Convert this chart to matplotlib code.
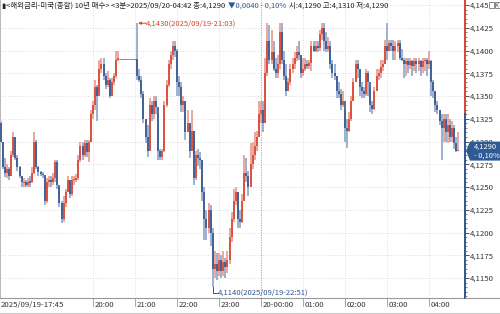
import matplotlib
matplotlib.use("Agg")
import matplotlib.pyplot as plt
import numpy as np
import pandas as pd

plt.rcParams['font.family'] = ['Noto Sans CJK KR', 'DejaVu Sans']

# 3분봉, 단위: 4.1 기준 0.0001 (예: 320 -> 4.1320)
first_open = 320
closes = [300, 272, 265, 270, 262, 285, 305, 282, 272, 262,
          255, 255, 252, 256, 255, 265, 300, 272, 266, 264,
          263, 235, 255, 258, 256, 260, 278, 252, 232, 215,
          232, 245, 258, 242, 258, 258, 260, 280, 295, 285,
          298, 288, 300, 330, 340, 360, 350, 380, 385, 372,
          362, 368, 350, 365, 372, 390, 391, 391, 391, 391,
          391, 391, 391, 391, 391, 372, 368, 352, 325, 305,
          290, 340, 330, 345, 338, 290, 283, 290, 340, 362,
          385, 395, 405, 400, 365, 360, 340, 345, 310, 320,
          290, 312, 260, 285, 282, 280, 245, 215, 205, 225,
          200, 160, 165, 158, 170, 158, 168, 162, 170, 195,
          215, 235, 245, 215, 212, 235, 265, 262, 250, 275,
          285, 295, 305, 330, 335, 320, 375, 410, 390, 398,
          380, 375, 385, 420, 390, 372, 355, 365, 380, 385,
          392, 398, 395, 375, 380, 385, 383, 386, 405, 400,
          405, 403, 418, 425, 410, 402, 405, 385, 375, 372,
          355, 352, 340, 345, 315, 312, 325, 345, 365, 385,
          380, 360, 355, 352, 375, 365, 340, 336, 355, 372,
          375, 382, 385, 405, 400, 408, 405, 400, 405, 408,
          392, 390, 385, 388, 384, 388, 383, 388, 385, 388,
          382, 388, 390, 385, 388, 365, 355, 340, 335, 322,
          315, 325, 310, 318, 305, 315, 298, 290, 290]
highs = [322, 300, 282, 275, 272, 290, 310, 305, 285, 273,
         262, 260, 258, 260, 262, 272, 310, 302, 273, 268,
         266, 262, 260, 262, 262, 265, 280, 280, 250, 235,
         240, 248, 262, 258, 262, 262, 264, 285, 300, 300,
         302, 302, 302, 335, 345, 368, 362, 390, 392, 392,
         375, 378, 370, 370, 375, 400, 400, 391, 391, 391,
         391, 391, 391, 391, 391, 430, 380, 372, 355, 325,
         318, 348, 345, 350, 350, 330, 292, 292, 345, 368,
         390, 400, 410, 410, 402, 372, 365, 350, 345, 335,
         318, 335, 312, 290, 292, 288, 280, 250, 225, 232,
         230, 205, 180, 178, 178, 175, 180, 172, 180, 205,
         222, 248, 250, 245, 225, 242, 285, 282, 268, 298,
         300, 310, 312, 345, 345, 345, 392, 430, 428, 422,
         410, 392, 395, 430, 430, 400, 385, 370, 385, 392,
         398, 405, 410, 395, 392, 392, 390, 390, 410, 410,
         410, 410, 422, 430, 430, 420, 415, 410, 390, 385,
         372, 365, 358, 355, 335, 325, 332, 350, 370, 390,
         390, 380, 365, 360, 380, 378, 360, 345, 360, 380,
         380, 390, 390, 412, 430, 412, 412, 412, 410, 412,
         412, 402, 392, 392, 392, 392, 390, 392, 392, 392,
         390, 392, 392, 392, 400, 390, 368, 355, 345, 335,
         330, 330, 330, 330, 325, 322, 318, 305, 310]
lows = [298, 270, 261, 260, 258, 262, 283, 280, 268, 260,
        250, 250, 250, 250, 250, 254, 264, 270, 262, 262,
        260, 230, 232, 250, 250, 252, 256, 248, 228, 210,
        212, 228, 245, 238, 240, 252, 255, 258, 278, 280,
        283, 283, 278, 300, 325, 335, 322, 352, 375, 368,
        358, 360, 348, 350, 362, 370, 388, 391, 391, 391,
        391, 391, 391, 391, 391, 368, 365, 348, 320, 298,
        283, 290, 322, 325, 330, 280, 280, 280, 288, 338,
        360, 380, 390, 393, 350, 350, 332, 332, 302, 310,
        282, 290, 252, 258, 273, 270, 235, 192, 192, 200,
        185, 140, 150, 148, 152, 150, 152, 150, 155, 165,
        190, 212, 230, 205, 205, 210, 235, 255, 240, 250,
        270, 280, 290, 305, 320, 310, 320, 372, 385, 385,
        378, 370, 370, 380, 385, 368, 350, 355, 362, 375,
        380, 388, 390, 370, 372, 378, 380, 380, 378, 398,
        398, 398, 400, 412, 400, 398, 398, 380, 370, 368,
        348, 348, 335, 338, 300, 293, 310, 322, 345, 365,
        370, 350, 348, 348, 350, 350, 332, 330, 335, 355,
        368, 370, 378, 385, 390, 400, 400, 390, 390, 398,
        390, 388, 370, 372, 375, 380, 372, 378, 375, 378,
        372, 375, 378, 372, 380, 350, 348, 332, 330, 318,
        280, 300, 300, 298, 300, 300, 292, 288, 290]

start_time = "2025-09-19 17:48"
first_label = "2025/09/19-17:45"
y_ticks = [4.1150, 4.1175, 4.1200, 4.1225, 4.1250, 4.1275, 4.1300,
           4.1325, 4.1350, 4.1375, 4.1400, 4.1425, 4.1450]
prev_close = 4.1330
last_price = 4.1290
high_label = "4,1430(2025/09/19-21:03)"
low_label = "4,1140(2025/09/19-22:51)"
header_parts = ["▮<해외금리-미국(종합) 10년 매수> <3분>2025/09/20-04:42 종:4,1290",
                "▼0,0040 - 0,10%",
                "시:4,1290 고:4,1310 저:4,1290"]

RED = "#d8432f"
BLUE = "#31558f"
RED_L = "#eaa89d"
BLUE_L = "#9db1d0"

c = 4.1 + np.array(closes) / 10000
h = 4.1 + np.array(highs) / 10000
l = 4.1 + np.array(lows) / 10000
o = np.r_[4.1 + first_open / 10000, c[:-1]]
n = len(c)
idx = np.arange(n)
times = pd.date_range(start_time, periods=n, freq="3min")

W, H = 500, 314
fig = plt.figure(figsize=(W / 100, H / 100), dpi=100)
ax_w, ax_h = 465, 298
ax = fig.add_axes([0, 1 - ax_h / H, ax_w / W, ax_h / H])

# 픽셀 배치: 봉 간격 2.1px
ax.set_xlim(-0.6 / 2.1, (ax_w - 0.6) / 2.1)
ax.set_ylim(4.145 - 293 / 9100, 4.145 + 5 / 9100)

for v in y_ticks:
    ax.axhline(v, color="#d4d4d4", lw=0.6, ls=(0, (1, 2)), zorder=0)

# 시작 라벨에 가리는 18시, 19시는 제외
hours = [i for i in idx if times[i].minute == 0 and 0.6 + 2.1 * i > 85]
for i in hours:
    if times[i].hour == 0:
        ax.axvline(i, color="#9a9a9a", lw=0.6, ls=(0, (1.5, 1.5)), zorder=4)
    else:
        ax.axvline(i, color="#d4d4d4", lw=0.6, ls=(0, (1, 2)), zorder=0)

up = c >= o
for i in idx:
    col = RED if up[i] else BLUE
    lcol = RED_L if up[i] else BLUE_L
    if h[i] == l[i]:
        ax.hlines(h[i], i - 0.5, i + 0.5, color=RED, lw=0.6, zorder=2)
        continue
    ax.vlines(i, l[i], h[i], color=lcol, lw=1.4, zorder=2)
    lo_b, hi_b = min(o[i], c[i]), max(o[i], c[i])
    if hi_b - lo_b < 0.00015:
        mid = (hi_b + lo_b) / 2
        lo_b, hi_b = mid - 0.000075, mid + 0.000075
    ax.vlines(i, lo_b, hi_b, color=col, lw=1.2, zorder=3)

# 최고/최저 표시
ih = int(np.argmax(h))
il = int(np.argmin(l))
ax.annotate("", xy=(ih + 0.5, h[ih]), xytext=(ih + 4.5, h[ih]),
            arrowprops=dict(arrowstyle="-|>", color=RED, lw=0.7,
                            mutation_scale=4, shrinkA=0, shrinkB=0), zorder=5)
ax.text(ih + 4.3, h[ih], high_label, color=RED, fontsize=5.5,
        va="center", ha="left", zorder=5)
ax.plot([il + 0.3, il + 0.3, il + 2.3], [l[il], l[il] - 0.0006, l[il] - 0.0006],
        color=BLUE, lw=0.7, zorder=5)
ax.text(il + 2.3, l[il] - 0.0006, low_label, color=BLUE, fontsize=5.5,
        va="center", ha="left", zorder=5)

# 축
ax.spines["top"].set_visible(False)
ax.spines["right"].set_visible(False)
ax.spines["left"].set_color("#bbbbbb")
ax.spines["left"].set_linewidth(0.8)
ax.spines["bottom"].set_color("#999999")
ax.spines["bottom"].set_linewidth(0.8)
y_bot, y_top = ax.get_ylim()
ax.plot([1, 1], [prev_close, y_top], transform=ax.get_yaxis_transform(),
        color=RED, lw=1.4, clip_on=False, zorder=6)
ax.plot([1, 1], [y_bot, prev_close], transform=ax.get_yaxis_transform(),
        color=BLUE, lw=1.4, clip_on=False, zorder=6)

ax.yaxis.tick_right()
ax.set_yticks(y_ticks)
ax.set_yticklabels([f"{v:.4f}".replace(".", ",") for v in y_ticks])
ax.set_yticks(np.arange(4.113, 4.1455, 0.0005), minor=True)
ax.tick_params(axis="y", which="major", direction="out", length=3, width=0.6,
               pad=0.5, labelsize=5.6, colors="#333333")
ax.tick_params(axis="y", which="minor", direction="out", length=1.5, width=0.5,
               colors="#555555")
ax.set_xticks([])


def px(x, y):
    return x / W, 1 - y / H


# 시간축 라벨
fig.text(*px(1, 305), first_label, fontsize=5.6, color="#333333",
         va="center", ha="left")
for i in hours:
    xp = 0.6 + 2.1 * i
    lab = times[i].strftime("%d-%H:%M") if times[i].hour == 0 else times[i].strftime("%H:%M")
    fig.add_artist(plt.Line2D([xp / W, xp / W], [1 - 298 / H, 1 - 306 / H],
                              color="#999999", lw=0.6))
    fig.text(*px(xp + 1.5, 305), lab, fontsize=5.6, color="#333333",
             va="center", ha="left")
fig.add_artist(plt.Line2D([ax_w / W, 1], [1 - 298 / H, 1 - 298 / H],
                          color="#999999", lw=0.8))
fig.add_artist(plt.Line2D([0, 1], [1 - 313 / H, 1 - 313 / H],
                          color="#cccccc", lw=0.8))

# 헤더: 앞 글자 끝에 이어서 배치
renderer = fig.canvas.get_renderer()
x_cur = 2
for part, col in zip(header_parts, ["#222222", BLUE, "#222222"]):
    t = fig.text(*px(x_cur, 6), part, fontsize=5.4, color=col,
                 va="center", ha="left")
    bb = t.get_window_extent(renderer)
    x_cur = bb.x1 + 3

# 현재가 박스
yb = H - ax.transData.transform((0, last_price))[1]
fig.patches.append(plt.Polygon(
    [[466 / W, 1 - yb / H], [470 / W, 1 - (yb - 9) / H], [500 / W, 1 - (yb - 9) / H],
     [500 / W, 1 - (yb + 10) / H], [470 / W, 1 - (yb + 10) / H]],
    closed=True, transform=fig.transFigure, facecolor="#2f5a94",
    edgecolor="none", zorder=10))
fig.text(*px(474, yb - 4), "4,1290", fontsize=5.4, color="white",
         va="center", ha="left", zorder=11)
fig.text(*px(474, yb + 5), "- 0,10%", fontsize=5.4, color="white",
         va="center", ha="left", zorder=11)

# 우상단 아이콘 (작은 상자 두 개)
fig.patches.append(plt.Rectangle((488 / W, 1 - 10 / H), 12 / W, 10 / H,
                                 transform=fig.transFigure, facecolor="white",
                                 edgecolor="none", zorder=10))
for x0 in (488.5, 494.5):
    fig.patches.append(plt.Rectangle((x0 / W, 1 - 8 / H), 5 / W, 6 / H,
                                     transform=fig.transFigure, facecolor="none",
                                     edgecolor="#777777", lw=0.6, zorder=11))
fig.add_artist(plt.Line2D([495.5 / W, 498.5 / W], [1 - 3 / H, 1 - 7 / H],
                          color="#777777", lw=0.5, zorder=12))
fig.add_artist(plt.Line2D([495.5 / W, 498.5 / W], [1 - 7 / H, 1 - 3 / H],
                          color="#777777", lw=0.5, zorder=12))

fig.savefig("out.png", dpi=100)
